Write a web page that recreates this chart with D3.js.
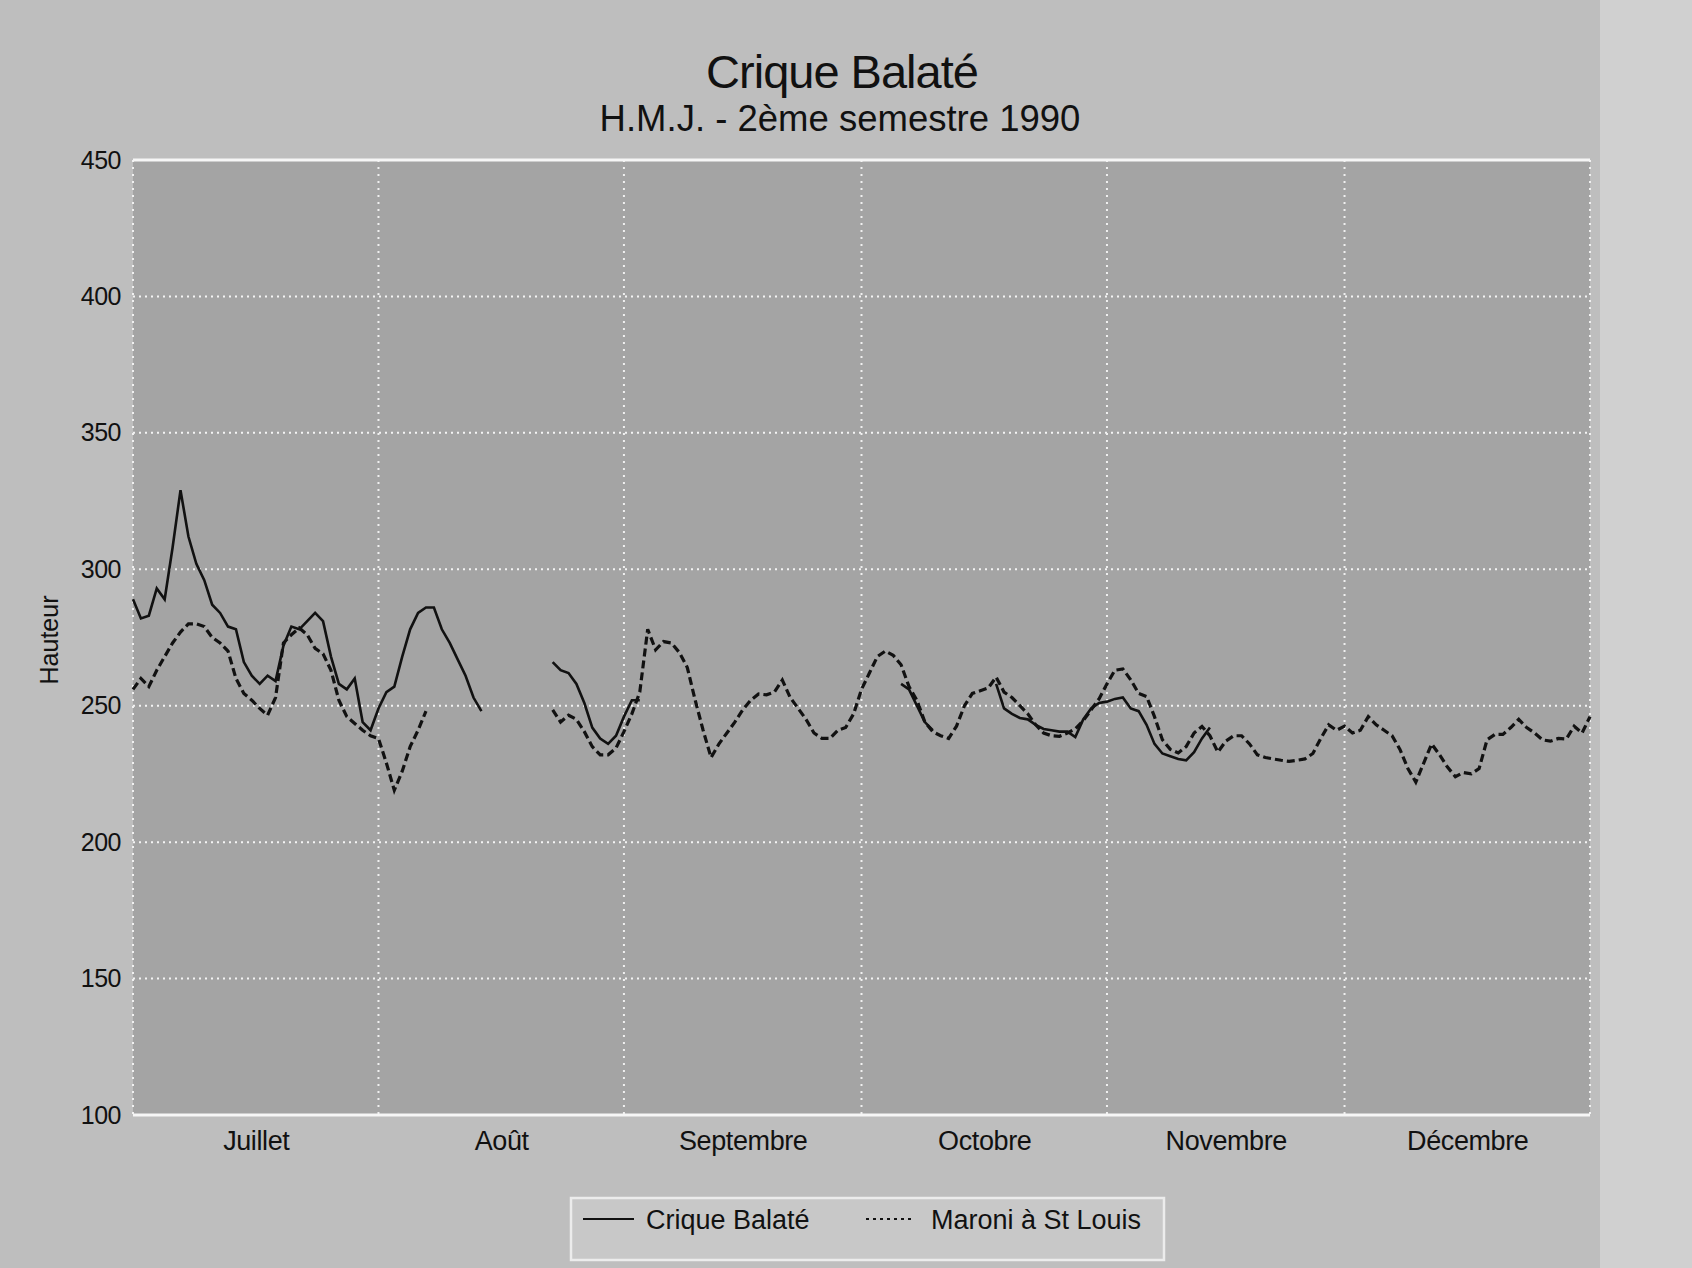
<!DOCTYPE html>
<html>
<head>
<meta charset="utf-8">
<script src="https://cdn.jsdelivr.net/npm/d3@7"></script>
<style>
  html, body { margin: 0; padding: 0; background: #bebebe; }
  svg { display: block; }
  text { font-family: "Liberation Sans", Arial, Helvetica, sans-serif; fill: #111; }
</style>
</head>
<body>
<svg id="chart" width="1692" height="1268"></svg>
<script>
// ---------- DATA ----------
const title = "Crique Balaté";
const subtitle = "H.M.J. - 2ème semestre 1990";
const yLabel = "Hauteur";
const months = ["Juillet", "Août", "Septembre", "Octobre", "Novembre", "Décembre"];
const monthStartDays = [0, 31, 62, 92, 123, 153, 184];   // day index of month starts (Jul 1 .. Dec 31)
const yTicks = [100, 150, 200, 250, 300, 350, 400, 450];
const seriesNames = ["Crique Balaté", "Maroni à St Louis"];

// daily water heights, day 0 = 1 July 1990 (null = no data)
const crique = [
  289,282,283,293,289,308,329,312,302,296,287,284,279,278,266,261,258,261,259,272,
  279,278,281,284,281,268,258,256,260,244,241,249,255,257,268,278,284,286,286,278,
  273,267,261,253,248,
  null,null,null,null,null,null,null,null,
  266,263,262,258,251,242,238,236,239,246,252,252,
  null,null,null,null,null,null,null,null,null,null,null,null,null,null,null,null,
  null,null,null,null,null,null,null,null,null,null,null,null,null,null,null,null,
  258,256,250,244,241,
  null,null,null,null,null,null,null,
  258,249,247,245.5,245,243,241.5,241,240.5,240.5,238.5,245,249,251,251.5,252.5,
  253,249,248,243,236,232.5,231.5,230.5,230,233,238,242,
  null,null,null,null,null,null,null,null,null,null,null,null,null,null,null,null,
  null,null,null,null,null,null,null,null,null,null,null,null,null,null,null,null,
  null,null,null,null,null,null,null,null,null,null,null,null,null,null,null,null
];

const maroni = [
  256,260,257,263,268,273,277,280,280,279,275,273,270,260,254.5,252,249,246.5,253,273,
  276,278.5,276,271,269,263,252,246,243.5,241,239,238,229,219,226,235,241,248,
  null,null,null,null,null,null,null,null,null,null,null,null,null,null,null,
  248.5,244,246.5,245,240.5,235,232,232,234.5,240.5,247,255,278,270.5,273.5,273,
  269.5,264,252,241,231,236,240,244,248.5,252,254.3,254,255,259.4,253,249,
  245,240,238,238,241,242,247,256,262,268,270,268.5,265,257,252,244,
  240.5,239,238,242.5,250,254.5,255.5,256.5,260.5,255,253,250,247,243,240,239,
  238.8,240,241.5,244.5,248.5,252.5,258,263,263.5,259.5,254.5,253.4,246,237.5,234,232.7,
  235,240,242.4,239,233,237,239,239,236,232,231,230.5,230,229.6,230,230.5,
  232.5,238,243,241,242.5,240,241,246,243,241,239,234,227,222,229,236,
  232,227.5,224,225.5,225,227,237.5,239.5,239.5,242,245,242,240,237.5,237,238,
  237.8,242.5,240,246
];

// ---------- LAYOUT ----------
const W = 1692, H = 1268;
const plot = { left: 133, right: 1590, top: 160, bottom: 1115 };

const svg = d3.select("#chart");

// background
svg.append("rect").attr("x", 0).attr("y", 0).attr("width", W).attr("height", H).attr("fill", "#bebebe");
svg.append("rect").attr("x", 1600).attr("y", 0).attr("width", 92).attr("height", H).attr("fill", "#d0d0d0");

const x = d3.scaleLinear().domain([0, 184]).range([plot.left, plot.right]);
const y = d3.scaleLinear().domain([100, 450]).range([plot.bottom, plot.top]);

// plot area
svg.append("rect")
  .attr("x", plot.left).attr("y", plot.top)
  .attr("width", plot.right - plot.left).attr("height", plot.bottom - plot.top)
  .attr("fill", "#a4a4a4");

// horizontal grid
const grid = svg.append("g").attr("class", "grid");
grid.selectAll("line.h").data(yTicks.filter(v => v > 100 && v < 450)).enter().append("line")
  .attr("x1", plot.left).attr("x2", plot.right)
  .attr("y1", d => y(d)).attr("y2", d => y(d))
  .attr("stroke", "#f4f4f4").attr("stroke-width", 2).attr("stroke-dasharray", "2,4");
// vertical grid at month boundaries
grid.selectAll("line.v").data(monthStartDays).enter().append("line")
  .attr("x1", d => x(d)).attr("x2", d => x(d))
  .attr("y1", plot.top).attr("y2", plot.bottom)
  .attr("stroke", "#f0f0f0").attr("stroke-width", 2).attr("stroke-dasharray", "2,5");
// top and bottom frame
[450, 100].forEach(v => {
  grid.append("line")
    .attr("x1", plot.left).attr("x2", plot.right)
    .attr("y1", y(v)).attr("y2", y(v))
    .attr("stroke", "#f6f6f6").attr("stroke-width", 3);
});

// y axis labels
const yAxis = d3.axisLeft(y).tickValues(yTicks).tickSize(0).tickPadding(12);
const yg = svg.append("g").attr("transform", `translate(${plot.left},0)`).call(yAxis);
yg.select(".domain").remove();
yg.selectAll("text")
  .style("font-family", '"Liberation Sans", Arial, sans-serif')
  .style("font-size", "25px").attr("fill", "#111").attr("letter-spacing", "-0.5");

// x axis month labels (centered in each month)
const monthMid = months.map((m, i) => (monthStartDays[i] + monthStartDays[i + 1]) / 2);
const xAxis = d3.axisBottom(x).tickValues(monthMid).tickFormat((d, i) => months[i]).tickSize(0).tickPadding(16);
const xg = svg.append("g").attr("transform", `translate(0,${plot.bottom})`).call(xAxis);
xg.select(".domain").remove();
xg.selectAll("text")
  .style("font-family", '"Liberation Sans", Arial, sans-serif')
  .style("font-size", "27px").attr("fill", "#111").attr("letter-spacing", "-0.4");

// y label
svg.append("text")
  .attr("transform", `translate(58,640) rotate(-90)`)
  .attr("text-anchor", "middle")
  .style("font-size", "25px")
  .text(yLabel);

// titles
svg.append("text").attr("x", 842).attr("y", 88).attr("text-anchor", "middle")
  .style("font-size", "47px").attr("letter-spacing", "-1").text(title);
svg.append("text").attr("x", 840).attr("y", 131).attr("text-anchor", "middle")
  .style("font-size", "36.5px").text(subtitle);

// lines
const line = d3.line()
  .defined(d => d.v !== null)
  .x(d => x(d.day))
  .y(d => y(d.v));

const toPts = arr => arr.map((v, i) => ({ day: i, v: v }));

svg.append("path").datum(toPts(maroni))
  .attr("d", line).attr("fill", "none")
  .attr("stroke", "#111").attr("stroke-width", 3.2)
  .attr("stroke-dasharray", "8,4");

svg.append("path").datum(toPts(crique))
  .attr("d", line).attr("fill", "none")
  .attr("stroke", "#111").attr("stroke-width", 2.6);

// legend
const lg = svg.append("g");
lg.append("rect").attr("x", 571).attr("y", 1198).attr("width", 593).attr("height", 62)
  .attr("fill", "#c8c8c8").attr("stroke", "#ececec").attr("stroke-width", 2.5);
lg.append("line").attr("x1", 583).attr("x2", 634).attr("y1", 1219).attr("y2", 1219)
  .attr("stroke", "#111").attr("stroke-width", 2.2);
lg.append("text").attr("x", 646).attr("y", 1229).style("font-size", "27px")
  .text(seriesNames[0]);
lg.append("line").attr("x1", 866).attr("x2", 914).attr("y1", 1219).attr("y2", 1219)
  .attr("stroke", "#111").attr("stroke-width", 2.2).attr("stroke-dasharray", "3,4");
lg.append("text").attr("x", 931).attr("y", 1229).style("font-size", "27px")
  .text(seriesNames[1]);
</script>
</body>
</html>
